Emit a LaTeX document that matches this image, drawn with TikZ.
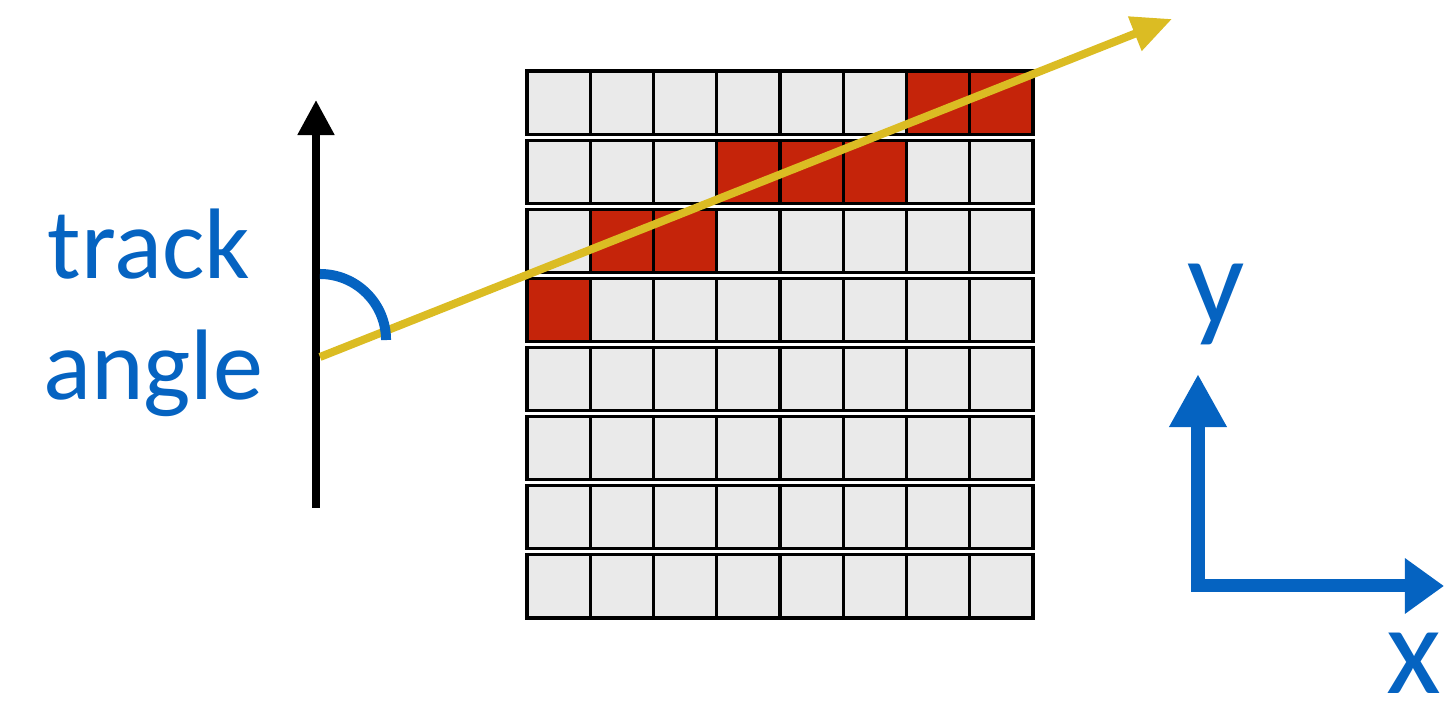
\documentclass[tikz,border=0pt]{standalone}
\usepackage{fontspec}
\newfontfamily\calibfont{Carlito}
\usetikzlibrary{arrows.meta}

\definecolor{trackyellow}{HTML}{DBBC23}
\definecolor{hitred}{HTML}{C5240A}
\definecolor{padgray}{HTML}{EAEAEA}
\definecolor{axisblue}{HTML}{0563C1}

\begin{document}
\begin{tikzpicture}[
    x=0.01cm, y=-0.01cm,
    every node/.style={inner sep=0pt, outer sep=0pt, text=axisblue},
    cell/.style={draw=black, line width=0.9pt, fill=padgray},
    hit/.style={cell, fill=hitred},
    label big/.style={font=\calibfont\fontsize{28.5}{34}\selectfont, anchor=base},
    label axis/.style={font=\calibfont\fontsize{36}{43}\selectfont, anchor=base},
]
\useasboundingbox (0,0) rectangle (1444,701);

% pixel pads
\foreach \r in {0,...,7}
  \foreach \c in {0,...,7}
    \draw[cell] ({527+63.25*\c},{71+69.1*\r}) rectangle +(63.25,63.3);
\foreach \r/\c in {0/6,0/7,1/3,1/4,1/5,2/1,2/2,3/0}
  \draw[hit] ({527+63.25*\c},{71+69.1*\r}) rectangle +(63.25,63.3);

% reference direction and track
\coordinate (vbot) at (316,508);
\coordinate (vtop) at (316,100);
\coordinate (tstart) at (320,357);
\coordinate (tend) at (1172,19);
\draw[line width=0.08cm, -{Triangle[length=0.35cm, width=0.35cm]}] (vbot) -- (vtop);
\draw[trackyellow, line width=0.08cm, -{Triangle[length=0.4cm, width=0.35cm]}] (tstart) -- (tend);
\draw[axisblue, line width=0.1cm] (320,274) arc[start angle=90, end angle=0, radius=0.66cm];

\node[label big] (track) at (149,279) {track};
\node[label big] (angle) at (153.5,400) {angle};

% axes
\coordinate (ytip) at (1198,374);
\coordinate (xtip) at (1444,586);
\draw[axisblue, line width=0.13cm, miter limit=10,
      {Triangle[length=0.53cm, width=0.54cm]}-{Triangle[length=0.39cm, width=0.53cm]}]
  (ytip) |- (xtip);
\node[label axis] (ylab) at (1216,325) {y};
\node[label axis] (xlab) at (1414,694) {x};
\end{tikzpicture}
\end{document}
